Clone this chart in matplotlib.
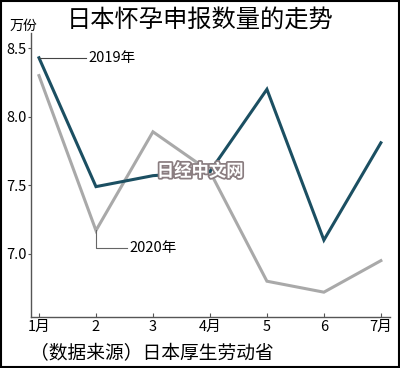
import matplotlib
matplotlib.use("Agg")
import matplotlib.pyplot as plt
import matplotlib.patheffects as pe

plt.rcParams['font.family'] = ['Noto Sans CJK SC', 'DejaVu Sans']

months = ["1月", "2", "3", "4月", "5", "6", "7月"]
v2019 = [8.43, 7.49, 7.57, 7.60, 8.20, 7.10, 7.81]
v2020 = [8.30, 7.17, 7.89, 7.60, 6.80, 6.72, 6.95]
yticks = [7.0, 7.5, 8.0, 8.5]

fig = plt.figure(figsize=(4.0, 3.68), dpi=100)
ax = fig.add_axes([0.0775, 0.139, 0.8975, 0.771])
x = list(range(len(months)))
ax.plot(x, v2020, color="#a9a9a9", lw=2.2, solid_joinstyle="miter")
ax.plot(x, v2019, color="#1b4f62", lw=2.2, solid_joinstyle="miter")
ax.set_xlim(-0.14, 6.16)
ax.set_ylim(6.54, 8.61)
ax.set_xticks(x)
ax.set_xticklabels(months, fontsize=10.5)
ax.set_yticks(yticks)
ax.set_yticklabels([f"{t:.1f}" for t in yticks], fontsize=10.5)
ax.tick_params(axis='x', direction='in', length=3, pad=2, color="#555555")
ax.tick_params(axis='y', direction='out', length=2, pad=1, color="#555555")
for s in ["top", "right"]:
    ax.spines[s].set_visible(False)
for s in ["left", "bottom"]:
    ax.spines[s].set_color("#555555")
    ax.spines[s].set_linewidth(1.0)

# annotations
ax.plot([x[0], 0.83], [v2019[0], v2019[0]], color="#444444", lw=0.8)
ax.text(0.86, v2019[0], "2019年", fontsize=10.5, va="center", ha="left")
ax.plot([x[1], x[1], 1.55], [v2020[1], 7.04, 7.04], color="#666666", lw=0.8)
ax.text(1.58, 7.04, "2020年", fontsize=10.5, va="center", ha="left")

# watermark
ax.text(2.83, 7.60, "日经中文网", fontsize=12.5, fontweight="bold", color="white",
        ha="center", va="center",
        path_effects=[pe.withStroke(linewidth=2.5, foreground="#8a7d80")])

fig.text(0.025, 0.929, "万份", fontsize=10, ha="left", va="center")
fig.text(0.5, 0.943, "日本怀孕申报数量的走势", fontsize=17.5, ha="center", va="center")
fig.text(0.075, 0.038, "（数据来源）日本厚生劳动省", fontsize=13.5, ha="left", va="center")

border = plt.Rectangle((0.002, 0.002), 0.996, 0.996, transform=fig.transFigure,
                       fill=False, edgecolor="black", lw=1.5)
fig.patches.append(border)

fig.savefig("out.png", dpi=100)
